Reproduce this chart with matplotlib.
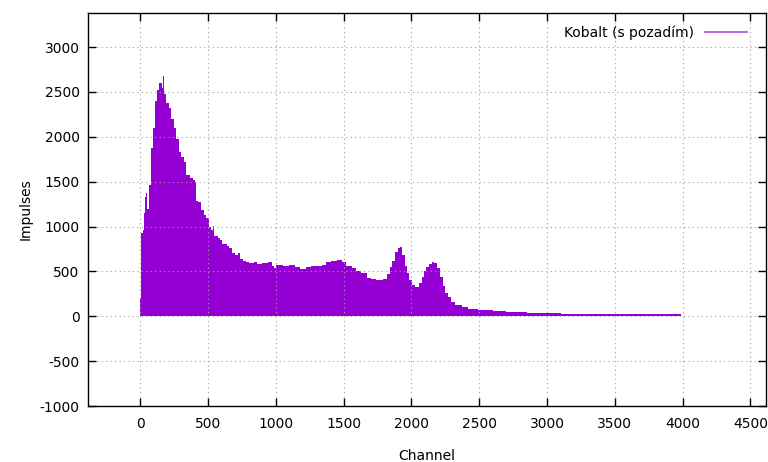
import matplotlib
matplotlib.use("Agg")
import matplotlib.pyplot as plt
from matplotlib.lines import Line2D
import numpy as np

plt.rcParams["axes.unicode_minus"] = False

# bin start channels and impulse heights
channel_start = [0, 5, 20, 27, 32, 44, 52, 64, 76, 82, 92, 108, 122, 138, 158, 168, 176, 192,
                 210, 230, 250, 266, 283, 298, 322, 340, 370, 390, 405, 415,
                 425, 450, 470, 485, 505, 520, 535, 545, 575, 590, 605, 640, 655, 680, 700,
                 720, 735, 760, 780, 800, 840, 860, 900, 940, 970, 990, 1000, 1050, 1100,
                 1140, 1180, 1220, 1260, 1300, 1340, 1370, 1410, 1450, 1490, 1520, 1560,
                 1590, 1630, 1670, 1700, 1740, 1790, 1820, 1840, 1860, 1880, 1900, 1915,
                 1930, 1950, 1965, 1985, 2005, 2030, 2055, 2075, 2090, 2110, 2130, 2150,
                 2170, 2190, 2210, 2230, 2250, 2270, 2290, 2320, 2370, 2420, 2490, 2600,
                 2700, 2850, 3000, 3100, 3250, 3600]
channel_end = 3990
impulses = [200, 930, 960, 1150, 1330, 1370, 1200, 1460, 1700, 1880, 2100, 2400, 2520, 2600,
            2540, 2680, 2480, 2380, 2320, 2200, 2100, 1980, 1830, 1770, 1720, 1570, 1540,
            1520, 1500, 1290,
            1270, 1180, 1130, 1090, 1000, 960, 1010, 900,
            870, 850, 810, 780, 760, 700, 680, 710, 640, 620, 610, 590, 610, 585, 590, 600,
            560, 535, 570, 560, 575, 545, 530, 545, 560, 555, 575, 600, 615, 625, 610, 560,
            540, 510, 480, 430, 410, 400, 420, 470, 550, 620, 715, 760, 775, 680, 560, 480,
            400, 350, 325, 375, 440, 500, 550, 585, 610, 590, 540, 440, 340, 260, 210, 160,
            125, 100, 85, 70, 60, 48, 40, 35, 30, 26, 22]

x_ticks = [0, 500, 1000, 1500, 2000, 2500, 3000, 3500, 4000, 4500]
y_ticks = [-1000, -500, 0, 500, 1000, 1500, 2000, 2500, 3000]

series_label = "Kobalt (s pozadím)"
color = "#9400D3"

fig = plt.figure(figsize=(7.68, 4.62), dpi=100)
ax = fig.add_axes([88/768, 1-406/462, (766-88)/768, (406-13)/462])

edges = np.array(channel_start + [channel_end], dtype=float)
ax.stairs(impulses, edges, fill=True, color=color, linewidth=0)

ax.set_xlim(-385, 4615)
ax.set_ylim(-1000, 3380)
ax.set_xticks(x_ticks)
ax.set_yticks(y_ticks)
ax.grid(True, color="#a0a0a0", linestyle=(0, (1, 3)), linewidth=0.8)
ax.tick_params(direction="in", length=6, width=1, top=True, right=True,
               labelsize=10, colors="black")
ax.tick_params(axis="x", pad=8)
ax.tick_params(axis="y", pad=6)
for s in ax.spines.values():
    s.set_linewidth(1)
    s.set_color("black")

ax.set_xlabel("Channel", fontsize=10, labelpad=13)
ax.set_ylabel("Impulses", fontsize=10, labelpad=5)

handle = Line2D([0], [0], color=color, linewidth=1.2, alpha=0.7)
ax.legend([handle], [series_label], loc="upper right", frameon=False, markerfirst=False,
          fontsize=10, handlelength=3.0, handletextpad=0.8, borderaxespad=0.5,
          bbox_to_anchor=(0.99, 1.0))

fig.savefig("out.png", dpi=100)
